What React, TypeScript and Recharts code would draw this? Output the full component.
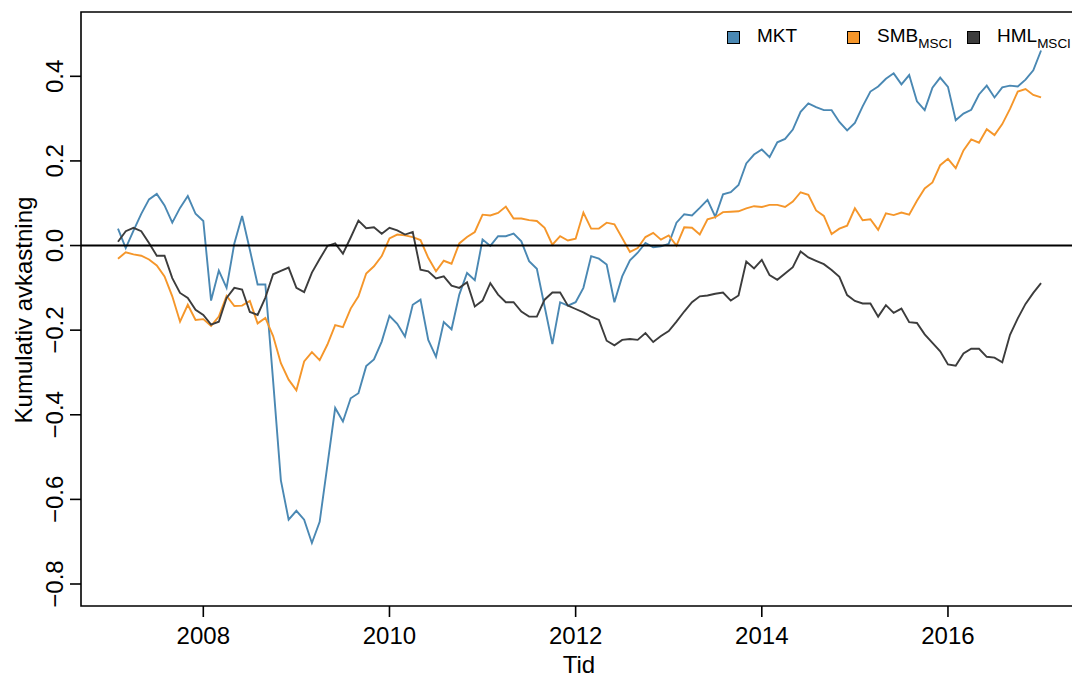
import React from "react";
import {
  LineChart,
  Line,
  XAxis,
  YAxis,
  Legend,
  ReferenceLine,
  ReferenceArea,
} from "recharts";

// monthly cumulative returns, Jan 2007 .. Dec 2016
const FIRST_YEAR = 2007;

const MKT = [
  0.04, -0.006, 0.035, 0.075, 0.109, 0.122, 0.095, 0.054, 0.089, 0.117, 0.075, 0.058,
  -0.13, -0.059, -0.1, 0.005, 0.07, -0.01, -0.092, -0.092, -0.32, -0.555, -0.648, -0.627,
  -0.648, -0.703, -0.653, -0.519, -0.384, -0.416, -0.361, -0.349, -0.285, -0.269, -0.227, -0.166,
  -0.185, -0.215, -0.14, -0.128, -0.223, -0.263, -0.181, -0.198, -0.116, -0.065, -0.082, 0.014,
  -0.001, 0.022, 0.022, 0.028, 0.01, -0.037, -0.055, -0.144, -0.233, -0.134, -0.142, -0.134,
  -0.1, -0.025, -0.031, -0.045, -0.134, -0.073, -0.035, -0.017, 0.006, -0.004, -0.002, 0.004,
  0.054, 0.074, 0.071, 0.089, 0.108, 0.068, 0.121, 0.126, 0.143, 0.194, 0.215, 0.227,
  0.209, 0.244, 0.252, 0.274, 0.316, 0.336, 0.327, 0.32, 0.32, 0.292, 0.272, 0.29,
  0.329, 0.364, 0.376, 0.394, 0.407, 0.381, 0.403, 0.341, 0.32, 0.373, 0.397, 0.375,
  0.296, 0.312, 0.321, 0.357, 0.378, 0.35, 0.374, 0.378, 0.376, 0.392, 0.414, 0.461,
];

const SMB = [
  -0.031, -0.016, -0.021, -0.024, -0.033, -0.047, -0.073, -0.12, -0.18, -0.14, -0.176, -0.174,
  -0.19, -0.168, -0.119, -0.143, -0.142, -0.131, -0.184, -0.171, -0.214, -0.278, -0.317, -0.342,
  -0.274, -0.252, -0.271, -0.234, -0.188, -0.193, -0.149, -0.12, -0.066, -0.049, -0.025, 0.017,
  0.026, 0.024, 0.02, 0.013, -0.029, -0.061, -0.036, -0.043, 0.005, 0.02, 0.032, 0.073,
  0.071, 0.077, 0.092, 0.064, 0.064, 0.06, 0.058, 0.042, 0.002, 0.022, 0.012, 0.016,
  0.078, 0.04, 0.04, 0.054, 0.05, 0.018, -0.015, -0.006, 0.02, 0.03, 0.014, 0.024,
  0.0, 0.043, 0.042, 0.026, 0.062, 0.067, 0.079, 0.08, 0.081, 0.088, 0.093, 0.091,
  0.096, 0.096, 0.091, 0.104, 0.126, 0.12, 0.083, 0.07, 0.027, 0.04, 0.047, 0.088,
  0.06, 0.062, 0.037, 0.076, 0.072, 0.078, 0.073, 0.106, 0.135, 0.149, 0.19, 0.205,
  0.183, 0.225, 0.251, 0.243, 0.275, 0.261, 0.287, 0.323, 0.364, 0.37, 0.356, 0.35,
];

const HML = [
  0.009, 0.034, 0.042, 0.034, 0.006, -0.024, -0.024, -0.077, -0.112, -0.124, -0.152, -0.164,
  -0.187, -0.18, -0.124, -0.1, -0.104, -0.157, -0.164, -0.123, -0.068, -0.06, -0.052, -0.1,
  -0.11, -0.064, -0.032, -0.001, 0.005, -0.019, 0.019, 0.059, 0.041, 0.043, 0.028, 0.042,
  0.036, 0.026, 0.032, -0.057, -0.061, -0.078, -0.073, -0.095, -0.1, -0.087, -0.144, -0.13,
  -0.089, -0.116, -0.134, -0.134, -0.156, -0.168, -0.168, -0.128, -0.111, -0.111, -0.142, -0.15,
  -0.158, -0.168, -0.176, -0.225, -0.236, -0.223, -0.221, -0.223, -0.207, -0.228, -0.214, -0.202,
  -0.18, -0.156, -0.134, -0.12, -0.118, -0.114, -0.111, -0.13, -0.118, -0.038, -0.054, -0.034,
  -0.07, -0.081, -0.066, -0.051, -0.014, -0.028, -0.036, -0.044, -0.058, -0.074, -0.117, -0.131,
  -0.137, -0.137, -0.168, -0.141, -0.159, -0.149, -0.181, -0.183, -0.21, -0.23, -0.25, -0.281,
  -0.284, -0.255, -0.244, -0.244, -0.263, -0.265, -0.276, -0.211, -0.172, -0.138, -0.112, -0.089,
];

const X_TICKS = [2008, 2010, 2012, 2014, 2016];
const Y_TICKS = [-0.8, -0.6, -0.4, -0.2, 0, 0.2, 0.4];
const X_DOMAIN = [2006.686, 2017.397];
const Y_DOMAIN = [-0.852, 0.552];

const SERIES = [
  { key: "mkt", label: "MKT", sub: "", color: "#4a88b3" },
  { key: "smb", label: "SMB", sub: "MSCI", color: "#f5962a" },
  { key: "hml", label: "HML", sub: "MSCI", color: "#3c3c3c" },
];

const FONT = '"Liberation Sans", Arial, Helvetica, sans-serif';

const data = MKT.map((v, i) => ({
  t: FIRST_YEAR + (i + 1) / 12,
  mkt: v,
  smb: SMB[i],
  hml: HML[i],
}));

const fmtY = (v: number) => v.toFixed(1).replace("-", "\u2212");

function XTick({ x, payload }: any) {
  return (
    <text x={x} y={644} textAnchor="middle" fontSize={24} fontFamily={FONT} fill="#000">
      {payload.value}
    </text>
  );
}

function YTick({ y, payload }: any) {
  return (
    <text
      x={63}
      y={y}
      transform={`rotate(-90, 63, ${y})`}
      textAnchor="middle"
      fontSize={24}
      fontFamily={FONT}
      fill="#000"
    >
      {fmtY(payload.value)}
    </text>
  );
}

// keep the legend in series order (recharts sorts its payload)
function LegendBox() {
  return (
    <div style={{ display: "flex", fontFamily: FONT, fontSize: 19, lineHeight: "19px", color: "#000" }}>
      {SERIES.map((s) => (
        <div key={s.key} style={{ width: 120, display: "flex", alignItems: "flex-start" }}>
          <span
            style={{
              width: 13,
              height: 13,
              marginTop: 5,
              marginRight: 17,
              border: "1.3px solid #000",
              boxSizing: "border-box",
              background: s.color,
              flex: "none",
            }}
          />
          <span style={{ whiteSpace: "nowrap" }}>
            {s.label}
            {s.sub && (
              <span style={{ fontSize: 13.5, verticalAlign: "-6px", lineHeight: 0 }}>{s.sub}</span>
            )}
          </span>
        </div>
      ))}
    </div>
  );
}

export default function App() {
  return (
    <div
      style={{
        position: "absolute",
        left: 0,
        top: 0,
        width: 1072,
        height: 679,
        overflow: "hidden",
        background: "#fff",
      }}
    >
      <LineChart width={1078} height={679} data={data} margin={{ top: 12, right: 0, bottom: 0, left: 0 }}>
        <XAxis
          dataKey="t"
          type="number"
          domain={X_DOMAIN}
          ticks={X_TICKS}
          interval={0}
          allowDataOverflow
          height={73}
          axisLine={false}
          tickSize={11}
          tickLine={{ stroke: "#000", strokeWidth: 1.6 }}
          tick={<XTick />}
          label={() => (
            <text x={579} y={673} textAnchor="middle" fontSize={24} fontFamily={FONT} fill="#000">
              Tid
            </text>
          )}
        />
        <YAxis
          type="number"
          domain={Y_DOMAIN}
          ticks={Y_TICKS}
          interval={0}
          allowDataOverflow
          width={81}
          axisLine={false}
          tickSize={11}
          tickLine={{ stroke: "#000", strokeWidth: 1.6 }}
          tick={<YTick />}
          label={() => (
            <text
              x={32}
              y={310}
              transform="rotate(-90, 32, 310)"
              textAnchor="middle"
              fontSize={24}
              fontFamily={FONT}
              fill="#000"
            >
              Kumulativ avkastning
            </text>
          )}
        />
        <ReferenceArea
          x1={X_DOMAIN[0]}
          x2={X_DOMAIN[1]}
          y1={Y_DOMAIN[0]}
          y2={Y_DOMAIN[1]}
          fill="none"
          stroke="#000"
          strokeWidth={1.6}
          ifOverflow="visible"
        />
        {SERIES.map((s) => (
          <Line
            key={s.key}
            type="linear"
            dataKey={s.key}
            name={s.label}
            stroke={s.color}
            strokeWidth={1.9}
            dot={false}
            activeDot={false}
            isAnimationActive={false}
          />
        ))}
        <ReferenceLine y={0} stroke="#000" strokeWidth={2} />
        <Legend
          layout="horizontal"
          verticalAlign="middle"
          content={<LegendBox />}
          wrapperStyle={{ left: 727, top: 26, width: 360 }}
        />
      </LineChart>
    </div>
  );
}
